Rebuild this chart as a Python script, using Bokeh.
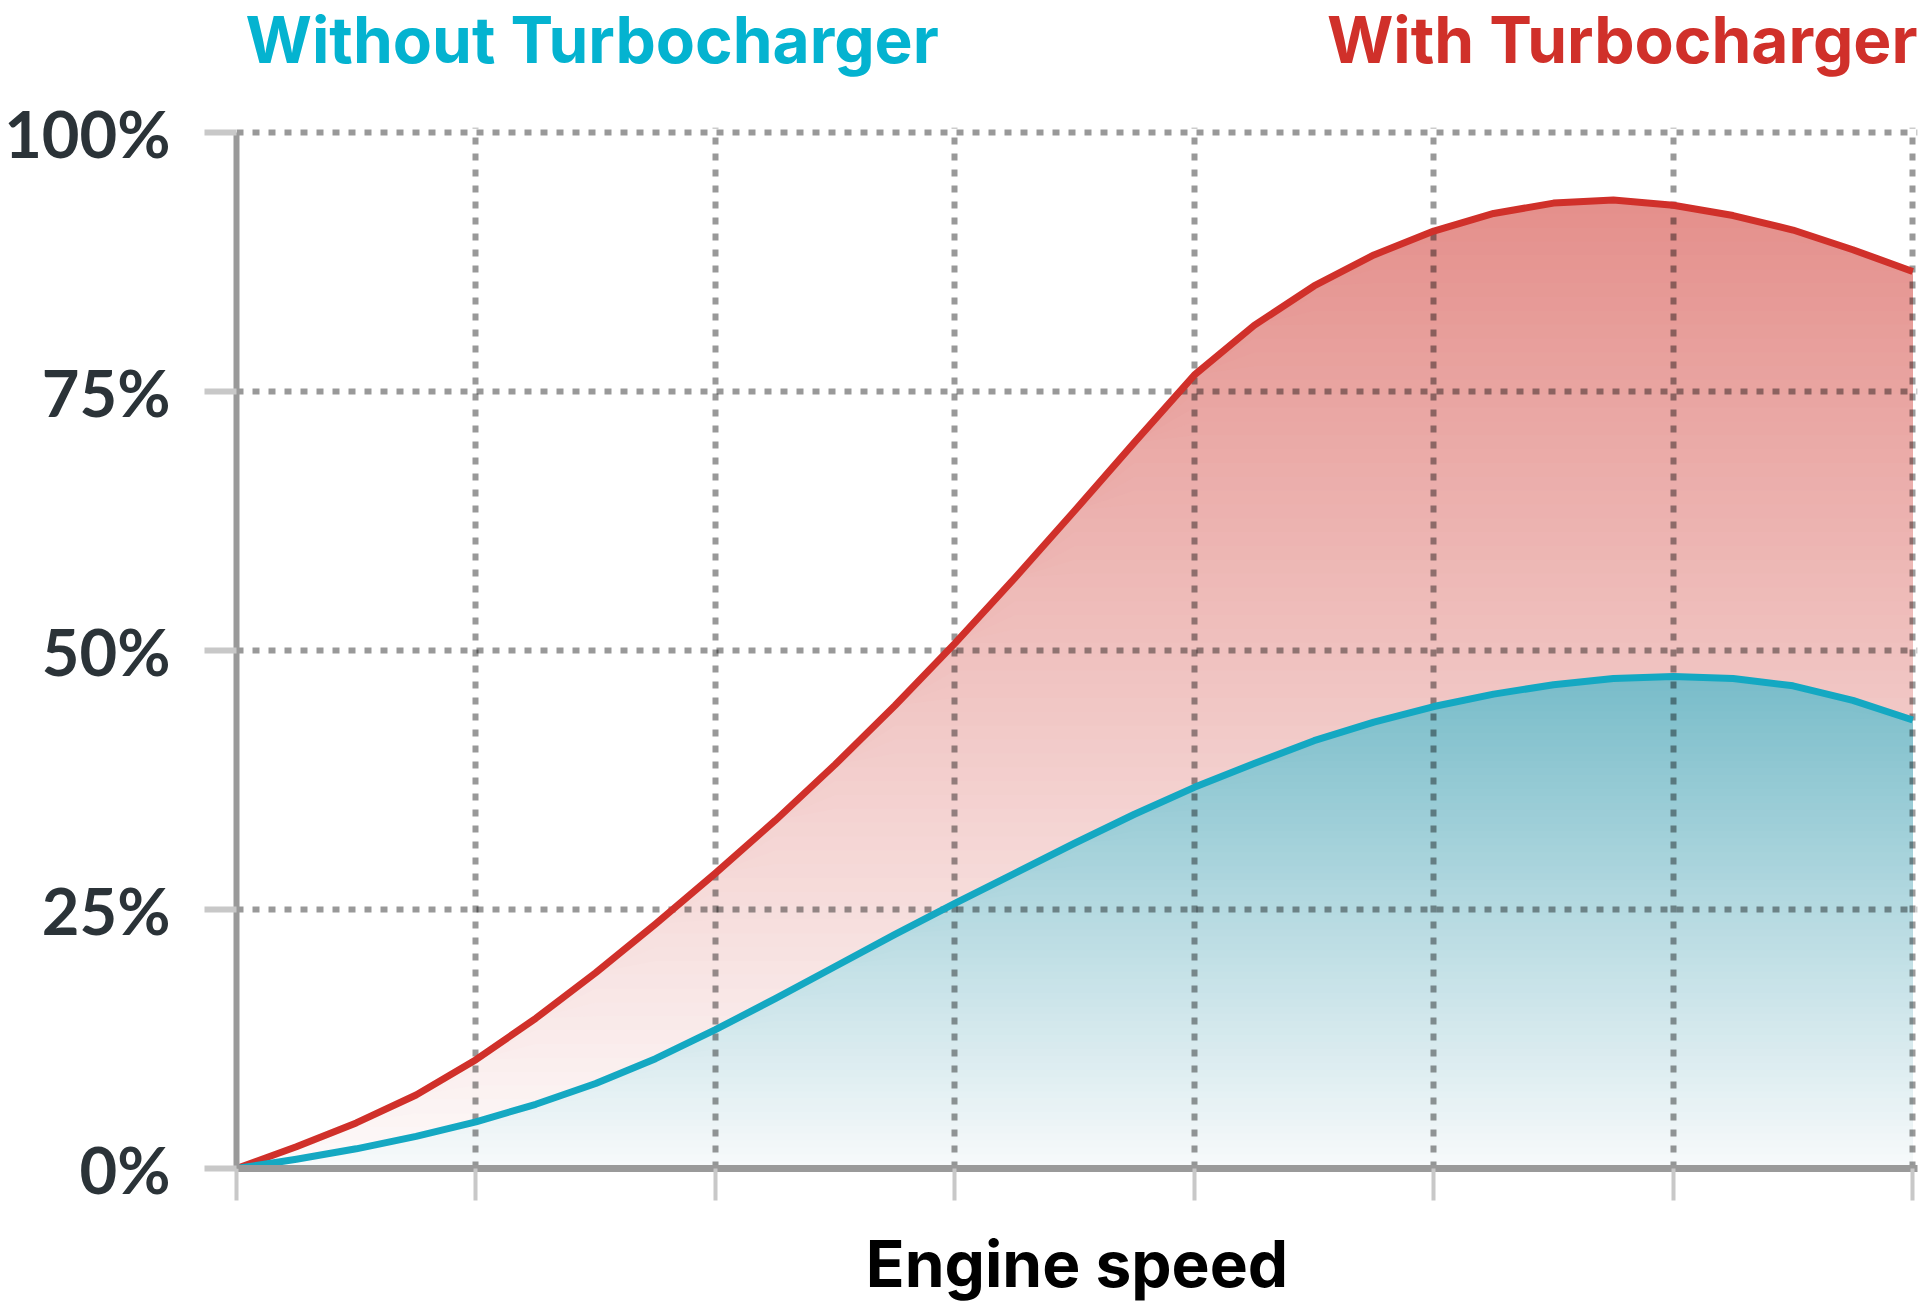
import numpy as np
from bokeh.plotting import figure
from bokeh.layouts import column
from bokeh.models import Range1d, FixedTicker
from bokeh.core.properties import value
from bokeh.embed import file_html
from bokeh.resources import INLINE

# engine speed in grid steps, read every quarter step
speed = [0, 0.25, 0.5, 0.75, 1, 1.25, 1.5, 1.75, 2, 2.25, 2.5, 2.75, 3, 3.25, 3.5,
         3.75, 4, 4.25, 4.5, 4.75, 5, 5.25, 5.5, 5.75, 6, 6.25, 6.5, 6.75, 7]
# torque (% of max) with turbocharger
with_turbo = [0, 2.1, 4.4, 7.1, 10.5, 14.5, 18.9, 23.6, 28.5, 33.6, 39.0, 44.7, 50.7,
              57.0, 63.5, 70.1, 76.6, 81.4, 85.2, 88.2, 90.5, 92.2, 93.2, 93.5, 93.0,
              92.0, 90.6, 88.7, 86.6]
# torque (% of max) without turbocharger
without_turbo = [0, 0.9, 1.9, 3.1, 4.5, 6.2, 8.2, 10.6, 13.4, 16.4, 19.5, 22.6, 25.6,
                 28.5, 31.4, 34.2, 36.8, 39.1, 41.3, 43.1, 44.6, 45.8, 46.7, 47.3, 47.5,
                 47.3, 46.6, 45.2, 43.3]

x_ticks = [0, 1, 2, 3, 4, 5, 6, 7]
y_ticks = [0, 25, 50, 75, 100]
y_tick_labels = ["0%", "25%", "50%", "75%", "100%"]
series_names = ["Without Turbocharger", "With Turbocharger"]

TXT_FONT, TICK_FONT = "Inter", "Lato"
RED, TEAL, TEAL_TXT = "#d0302a", "#14a8c2", "#04b3d0"

xr = Range1d(0, 7.02)

# header strip with the two series titles (y runs in px from the top)
HEAD_H = 80
head = figure(width=1920, height=HEAD_H, output_backend="svg", toolbar_location=None, title=None,
              x_range=xr, y_range=Range1d(HEAD_H, 0), x_axis_location=None, y_axis_location=None,
              min_border_left=236, min_border_right=3, min_border_top=0, min_border_bottom=0)
head.outline_line_color = None
head.xgrid.visible = False
head.ygrid.visible = False
head.text(x=[0.038], y=[39], text=[series_names[0]], text_font=value(TXT_FONT),
          text_font_style="bold", text_font_size="64px", text_color=TEAL_TXT,
          text_baseline="middle")
head.text(x=[7.02], y=[39], text=[series_names[1]], text_font=value(TXT_FONT),
          text_font_style="bold", text_font_size="64px", text_color=RED,
          text_align="right", text_baseline="middle")

p = figure(width=1920, height=1308 - HEAD_H, output_backend="svg", toolbar_location=None,
           title=None, x_range=xr, y_range=Range1d(0, 100.5),
           min_border_left=236, min_border_top=127 - HEAD_H, min_border_right=3,
           min_border_bottom=140)
p.outline_line_color = None
p.background_fill_color = "white"
p.border_fill_color = "white"


def hex_rgb(h):
    return np.array([int(h[i:i + 2], 16) for i in (1, 3, 5)], dtype=float)


def gradient_area(xs, ys, top_col, bottom_col, n=70):
    # stacked bands, top first; each lower band repaints the part below it
    ys = np.asarray(ys, dtype=float)
    top = ys.max()
    c_top, c_bot = hex_rgb(top_col), hex_rgb(bottom_col)
    for i in range(n, 0, -1):
        t = (i - 0.5) / n
        c = c_bot + (c_top - c_bot) * t
        col = "#%02x%02x%02x" % tuple(int(round(v)) for v in c)
        p.varea(x=xs, y1=0, y2=np.minimum(ys, top * i / n), fill_color=col, level="image")


gradient_area(speed, with_turbo, "#e48f8b", "#fdfafa")
gradient_area(speed, without_turbo, "#78bcc9", "#f8fafb")

p.line(speed, with_turbo, line_color=RED, line_width=7, line_join="round")
p.line(speed, without_turbo, line_color=TEAL, line_width=7, line_join="round")

# grid
for g, tk in ((p.xgrid, x_ticks), (p.ygrid, y_ticks)):
    g.ticker = FixedTicker(ticks=tk)
    g.grid_line_color = "black"
    g.grid_line_alpha = 0.4
    g.grid_line_width = 6
    g.grid_line_dash = "7 9"

# axes
p.xaxis.ticker = FixedTicker(ticks=x_ticks)
p.yaxis.ticker = FixedTicker(ticks=y_ticks)
p.yaxis.major_label_overrides = {t: s for t, s in zip(y_ticks, y_tick_labels)}
p.xaxis.major_label_overrides = {t: "" for t in x_ticks}
p.xaxis.major_label_text_font_size = "0px"
p.xaxis.major_label_standoff = 0
p.yaxis.bounds = (0, 100)
for ax in (p.xaxis, p.yaxis):
    ax.axis_line_color = "#9a9a9a"
    ax.major_tick_line_color = "#c8c8c8"
    ax.major_tick_out = 32
    ax.major_tick_in = 0
    ax.minor_tick_line_color = None
p.xaxis.axis_line_width = 7
p.yaxis.axis_line_width = 6
p.xaxis.major_tick_line_width = 4
p.yaxis.major_tick_line_width = 6

p.yaxis.major_label_text_font = TICK_FONT
p.yaxis.major_label_text_font_style = "bold"
p.yaxis.major_label_text_font_size = "65px"
p.yaxis.major_label_text_color = "#2b3338"
p.yaxis.major_label_standoff = 34

p.xaxis.axis_label = "Engine speed"
p.xaxis.axis_label_text_font = TXT_FONT
p.xaxis.axis_label_text_font_style = "bold"
p.xaxis.axis_label_text_font_size = "64px"
p.xaxis.axis_label_text_color = "black"
p.xaxis.axis_label_standoff = 24

layout = column(head, p, spacing=0)
open("out.html", "w").write(file_html(layout, INLINE))
